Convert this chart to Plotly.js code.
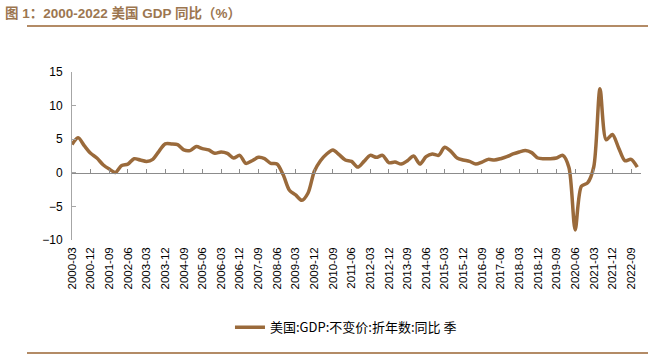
<!DOCTYPE html>
<html>
<head>
<meta charset="utf-8">
<script src="https://cdn.plot.ly/plotly-3.0.1.min.js"></script>
<style>html,body{margin:0;padding:0;background:#fff;}#chart{width:669px;height:360px;}</style>
</head>
<body>
<div id="chart"></div>
<script>
// Quarter labels 2000-03 .. 2022-12
const years = [];
for (let y = 2000; y <= 2022; y++) years.push(y);
const quarters = ["03", "06", "09", "12"];
const categories = [];
years.forEach(y => quarters.forEach(q => categories.push(y + "-" + q)));

const gdpYoY = [
  4.2, 5.2, 4.0, 2.9,
  2.2, 1.2, 0.55, 0.05,
  1.1, 1.3, 2.1, 1.9,
  1.7, 2.0, 3.2, 4.3,
  4.3, 4.2, 3.4, 3.3,
  3.9, 3.6, 3.4, 2.9,
  3.1, 2.9, 2.2, 2.6,
  1.4, 1.8, 2.3, 2.1,
  1.4, 1.3, -0.3, -2.6,
  -3.3, -4.1, -3.0, 0.2,
  1.8, 2.8, 3.4, 2.7,
  1.9, 1.7, 0.85, 1.7,
  2.6, 2.3, 2.6, 1.5,
  1.6, 1.3, 1.8, 2.5,
  1.3, 2.4, 2.8, 2.6,
  3.8, 3.2, 2.2, 1.9,
  1.7, 1.3, 1.6, 2.0,
  1.9, 2.1, 2.4, 2.8,
  3.1, 3.3, 3.0, 2.2,
  2.1, 2.1, 2.2, 2.6,
  0.8, -8.5, -2.0, -1.5,
  0.9, 12.5, 4.9, 5.7,
  3.7, 1.8, 2.0, 0.85
];

const seriesName = "美国:GDP:不变价:折年数:同比 季";
const titleText = "图 1：2000-2022 美国 GDP 同比（%）";

const xIdx = categories.map((c, i) => i);
const tickIdx = xIdx.filter(i => i % 3 === 0);
const tickText = tickIdx.map(i => categories[i]);

const lineColor = "#9a6a3b";
const ruleColor = "#b38b66";
const axisGray = "#a6a6a6";
const latin = "Liberation Sans, Arial, Noto Sans CJK SC, sans-serif";

const traces = [
  {
    x: xIdx, y: gdpYoY, type: "scatter", mode: "lines",
    name: seriesName,
    line: {color: lineColor, width: 3.5, shape: "spline", smoothing: 0.8},
    hoverinfo: "skip"
  },
  {
    x: xIdx, y: gdpYoY, xaxis: "x2", type: "scatter", mode: "lines",
    line: {width: 0}, opacity: 0, showlegend: false, hoverinfo: "skip"
  }
];

const layout = {
  width: 669, height: 360,
  margin: {l: 72, r: 28, t: 72, b: 120},
  paper_bgcolor: "#fff", plot_bgcolor: "#fff",
  showlegend: true,
  font: {family: latin, size: 12, color: "#000"},
  title: {
    text: "<b>" + titleText + "</b>",
    x: 5 / 669, xanchor: "left", xref: "container",
    y: 1 - 13 / 360, yanchor: "middle", yref: "container",
    font: {family: "Liberation Sans, Noto Sans CJK SC, sans-serif", size: 13.5, color: "#9c7650"}
  },
  xaxis: {
    range: [0, 91.6], tickmode: "array", tickvals: tickIdx, ticktext: tickText,
    tickangle: -90, ticks: "", showline: false, showgrid: false, zeroline: false,
    tickfont: {family: latin, size: 11.5, color: "#000"},
    ticklabelstandoff: 4
  },
  xaxis2: {
    overlaying: "x", anchor: "free", position: 0.4,
    range: [0, 91.6], tickmode: "array", tickvals: tickIdx,
    ticks: "inside", ticklen: 4, tickcolor: "#8c8c8c", tickwidth: 1,
    showticklabels: false, showline: true, linecolor: "#8c8c8c", linewidth: 1,
    showgrid: false, zeroline: false
  },
  yaxis: {
    range: [-10, 15], tickmode: "array", tickvals: [-10, -5, 0, 5, 10, 15],
    ticks: "inside", ticklen: 4, tickcolor: axisGray,
    showline: true, linecolor: axisGray, linewidth: 1,
    showgrid: false, zeroline: false,
    tickfont: {family: latin, size: 12, color: "#000"},
    ticklabelstandoff: 6
  },
  legend: {
    orientation: "h", x: 0.4815, xanchor: "center", y: -0.52, yanchor: "middle",
    font: {family: "Noto Sans CJK SC, Liberation Sans, sans-serif", size: 13, color: "#000"},
    bgcolor: "rgba(0,0,0,0)"
  },
  shapes: [
    {type: "line", xref: "paper", yref: "paper", x0: (27 - 72) / 569, x1: (648 - 72) / 569,
     y0: (240 - 26) / 168, y1: (240 - 26) / 168, line: {color: ruleColor, width: 2}},
    {type: "line", xref: "paper", yref: "paper", x0: (27 - 72) / 569, x1: (648 - 72) / 569,
     y0: (240 - 353) / 168, y1: (240 - 353) / 168, line: {color: ruleColor, width: 2}}
  ]
};

Plotly.newPlot("chart", traces, layout, {displayModeBar: false, staticPlot: true});
</script>
</body>
</html>
